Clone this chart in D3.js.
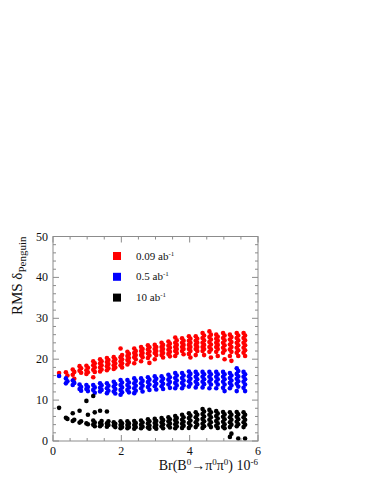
<!DOCTYPE html>
<html>
<head>
<meta charset="utf-8">
<script src="https://cdn.jsdelivr.net/npm/d3@7"></script>
<style>
  body { margin: 0; background: #fff; }
  text { font-family: "Liberation Serif", "Times New Roman", serif; fill: #111; }
</style>
</head>
<body>
<script>
// Br(B0 -> pi0 pi0) column positions (x 10^-6)
const brCols = [0.2, 0.4, 0.6, 0.8, 1.0, 1.2, 1.4, 1.6, 1.8, 2.0, 2.2, 2.4, 2.6, 2.8,
  3.0, 3.2, 3.4, 3.6, 3.8, 4.0, 4.2, 4.4, 4.6, 4.8, 5.0, 5.2, 5.4, 5.6];

// RMS delta_Penguin values for each column, 0.09 ab^-1
const red = [
  [16.6],
  [16.8, 16.0],
  [17.5, 16.9, 16.2, 15.2],
  [18.3, 17.8, 17.2, 16.7],
  [18.4, 17.9, 17.3, 16.8, 16.4],
  [19.5, 19.0, 18.5, 18.0, 17.4, 16.9, 15.6],
  [20.0, 19.5, 19.0, 18.5, 18.0, 17.5, 17.0],
  [20.3, 19.8, 19.3, 18.8, 18.3, 17.8, 17.3],
  [20.5, 20.0, 19.5, 19.0, 18.5, 18.0, 17.6],
  [22.6, 21.0, 20.5, 20.0, 19.5, 19.0, 18.5, 18.0],
  [21.8, 21.3, 20.8, 20.3, 19.8, 19.3, 18.7],
  [22.6, 22.0, 21.5, 21.0, 20.5, 20.0, 19.0],
  [23.0, 22.5, 22.0, 21.5, 21.0, 20.5, 19.5],
  [23.4, 22.9, 22.4, 21.9, 21.4, 20.9, 20.3, 19.1],
  [23.5, 23.0, 22.5, 22.0, 21.5, 21.0, 20.0],
  [24.0, 23.5, 23.0, 22.5, 22.0, 21.5, 21.0, 20.4],
  [24.3, 23.8, 23.3, 22.8, 22.3, 21.8, 21.3, 20.7],
  [25.3, 24.6, 24.0, 23.5, 23.0, 22.5, 22.0, 21.5, 20.8],
  [25.1, 24.5, 24.0, 23.5, 23.0, 22.5, 22.0, 21.2],
  [25.6, 25.0, 24.5, 24.0, 23.5, 23.0, 22.5, 22.0, 21.3, 20.4],
  [25.6, 25.0, 24.5, 24.0, 23.5, 23.0, 22.5, 22.0, 21.0],
  [26.4, 25.8, 25.2, 24.6, 24.0, 23.5, 23.0, 22.5, 22.0, 21.0],
  [26.8, 26.0, 25.4, 24.8, 24.2, 23.6, 23.0, 22.4, 21.8, 20.4],
  [26.0, 25.5, 25.0, 24.5, 24.0, 23.5, 23.0, 22.5, 21.8, 20.8],
  [26.4, 25.8, 25.2, 24.6, 24.0, 23.4, 22.8, 22.2, 21.6, 20.0],
  [26.0, 25.4, 24.8, 24.2, 23.6, 23.0, 22.4, 21.8, 20.8, 19.6],
  [26.4, 25.8, 25.2, 24.6, 24.0, 23.4, 22.8, 22.2, 21.6, 20.8],
  [26.4, 25.8, 25.2, 24.6, 24.0, 23.4, 22.8, 22.2, 21.6, 20.8]
];

// 0.5 ab^-1
const blue = [
  [15.9],
  [15.3, 14.6, 14.1],
  [14.8, 14.2, 13.7],
  [13.8, 13.2, 12.7, 12.3],
  [13.7, 13.2, 12.7, 12.2],
  [13.7, 13.1, 12.5, 11.8],
  [14.1, 13.6, 13.0, 12.5, 12.1],
  [14.1, 13.5, 12.9, 12.3, 11.7],
  [14.5, 13.9, 13.3, 12.7, 12.1, 11.6],
  [14.9, 14.3, 13.7, 13.1, 12.5, 11.9, 11.3],
  [14.9, 14.3, 13.7, 13.1, 12.5, 11.9],
  [15.3, 14.7, 14.1, 13.5, 12.9, 12.3, 11.7],
  [15.3, 14.7, 14.1, 13.5, 12.9, 12.1],
  [15.6, 15.0, 14.4, 13.8, 13.2, 12.5],
  [15.8, 15.2, 14.6, 14.0, 13.4, 12.6],
  [15.8, 15.2, 14.6, 14.0, 13.4, 12.7],
  [16.2, 15.6, 15.0, 14.4, 13.8, 13.0],
  [16.6, 16.0, 15.4, 14.8, 14.2, 13.6, 12.9],
  [16.6, 16.0, 15.4, 14.8, 14.2, 13.6, 12.9],
  [17.0, 16.4, 15.8, 15.2, 14.6, 14.0, 13.3],
  [16.9, 16.3, 15.7, 15.1, 14.5, 13.9, 13.1],
  [16.9, 16.3, 15.7, 15.1, 14.5, 13.9, 13.1],
  [16.9, 16.3, 15.7, 15.1, 14.5, 13.8, 12.9],
  [16.9, 16.3, 15.7, 15.1, 14.5, 13.8, 12.9],
  [16.9, 16.3, 15.7, 15.1, 14.5, 13.8, 13.0, 12.2],
  [16.6, 16.0, 15.4, 14.8, 14.2, 13.6, 12.9],
  [17.8, 17.1, 16.4, 15.8, 15.2, 14.6, 14.0, 13.3, 12.2],
  [16.9, 16.3, 15.7, 15.1, 14.5, 13.8, 13.0, 12.2]
];

// 10 ab^-1
const black = [
  [8.1],
  [5.7, 5.4],
  [6.8, 5.2, 4.9],
  [7.4, 4.8, 4.5],
  [9.8, 6.4, 4.3, 4.1],
  [11.0, 7.0, 5.0, 4.5, 4.0, 3.6],
  [7.4, 4.9, 4.4, 4.0, 3.6],
  [7.2, 4.8, 4.3, 3.9, 3.5],
  [4.6, 4.2, 3.8, 3.4],
  [4.8, 4.3, 3.9, 3.4, 3.1],
  [4.8, 4.3, 3.9, 3.4, 3.1],
  [4.9, 4.4, 3.9, 3.4, 3.0],
  [5.0, 4.5, 4.0, 3.5, 3.1],
  [5.3, 4.8, 4.3, 3.8, 3.3, 3.0],
  [5.4, 4.9, 4.4, 3.9, 3.4, 3.0],
  [5.6, 5.1, 4.6, 4.1, 3.6, 3.1],
  [5.8, 5.3, 4.8, 4.3, 3.8, 3.3],
  [6.1, 5.6, 5.1, 4.6, 4.1, 3.6, 3.1],
  [6.4, 5.8, 5.2, 4.7, 4.2, 3.7, 3.2],
  [6.8, 6.2, 5.6, 5.0, 4.4, 3.8, 3.2],
  [7.0, 6.4, 5.8, 5.2, 4.6, 4.0, 3.4],
  [7.8, 7.2, 6.6, 6.0, 5.4, 4.8, 4.2, 3.6, 3.2],
  [7.6, 7.0, 6.4, 5.8, 5.2, 4.6, 4.0, 3.4],
  [7.3, 6.7, 6.1, 5.5, 4.9, 4.3, 3.7, 3.2],
  [7.1, 6.5, 5.9, 5.3, 4.7, 4.1, 3.5, 3.1],
  [7.0, 6.4, 5.8, 5.2, 4.6, 4.0, 3.4, 1.8, 1.0],
  [7.1, 6.5, 5.9, 5.3, 4.7, 4.1, 3.6, 0.6],
  [7.0, 6.4, 5.8, 5.2, 4.6, 4.0, 3.4, 0.6]
];

const seriesNames = ['0.09', '0.5', '10'];
const seriesColors = ['#ff0000', '#0000ff', '#000000'];
const seriesValues = [red, blue, black];

const xTicks = [0, 2, 4, 6];
const yTicks = [0, 10, 20, 30, 40, 50];

const width = 382;
const height = 494;
const plot = { left: 53, right: 258, top: 236.5, bottom: 441 };

const x = d3.scaleLinear().domain([0, 6]).range([plot.left, plot.right]);
const y = d3.scaleLinear().domain([0, 50]).range([plot.bottom, plot.top]);

const svg = d3.select('body').append('svg')
  .attr('width', width)
  .attr('height', height);

// points: small sideways spread inside each column
const spread = [-0.022, 0.022];
const points = [];
seriesValues.forEach((cols, s) => {
  cols.forEach((vals, c) => {
    vals.forEach((v, i) => {
      points.push({ br: brCols[c] + spread[i % 2], v, color: seriesColors[s] });
    });
  });
});

svg.append('g').selectAll('circle')
  .data(points)
  .join('circle')
  .attr('cx', (d) => x(d.br))
  .attr('cy', (d) => y(d.v))
  .attr('r', 2.3)
  .attr('fill', (d) => d.color);

// frame and ticks (ROOT style, inward)
const axisColor = '#8c8c8c';
svg.append('rect')
  .attr('x', plot.left).attr('y', plot.top)
  .attr('width', plot.right - plot.left)
  .attr('height', plot.bottom - plot.top)
  .attr('fill', 'none')
  .attr('stroke', axisColor)
  .attr('stroke-width', 1);

const ticks = svg.append('g').attr('stroke', axisColor).attr('stroke-width', 1);
d3.range(0, 6.001, 0.5).forEach((t) => {
  const len = t % 2 === 0 ? 6 : 3;
  ticks.append('line').attr('x1', x(t)).attr('x2', x(t))
    .attr('y1', plot.bottom).attr('y2', plot.bottom - len);
  ticks.append('line').attr('x1', x(t)).attr('x2', x(t))
    .attr('y1', plot.top).attr('y2', plot.top + len);
});
d3.range(0, 50.001, 2).forEach((t) => {
  const len = t % 10 === 0 ? 6 : 3;
  ticks.append('line').attr('y1', y(t)).attr('y2', y(t))
    .attr('x1', plot.left).attr('x2', plot.left + len);
  ticks.append('line').attr('y1', y(t)).attr('y2', y(t))
    .attr('x1', plot.right).attr('x2', plot.right - len);
});

svg.append('g').selectAll('text')
  .data(xTicks)
  .join('text')
  .attr('x', (d) => x(d))
  .attr('y', plot.bottom + 14)
  .attr('text-anchor', 'middle')
  .attr('font-size', 12)
  .text((d) => d);

svg.append('g').selectAll('text')
  .data(yTicks)
  .join('text')
  .attr('x', plot.left - 5)
  .attr('y', (d) => y(d) + 4)
  .attr('text-anchor', 'end')
  .attr('font-size', 12)
  .text((d) => d);

// axis titles
const xt = svg.append('text')
  .attr('x', plot.right)
  .attr('y', 470)
  .attr('text-anchor', 'end')
  .attr('font-size', 14);
xt.append('tspan').text('Br(B');
xt.append('tspan').attr('dy', -5).attr('font-size', 9).text('0');
xt.append('tspan').attr('dy', 5).text('\u2192\u03c0');
xt.append('tspan').attr('dy', -5).attr('font-size', 9).text('0');
xt.append('tspan').attr('dy', 5).text('\u03c0');
xt.append('tspan').attr('dy', -5).attr('font-size', 9).text('0');
xt.append('tspan').attr('dy', 5).text(') 10');
xt.append('tspan').attr('dy', -5).attr('font-size', 9).text('-6');

const yt = svg.append('text')
  .attr('transform', `translate(22,${plot.top}) rotate(-90)`)
  .attr('text-anchor', 'end')
  .attr('font-size', 15);
yt.append('tspan').text('RMS \u03b4');
yt.append('tspan').attr('dy', 4).attr('font-size', 11).text('Penguin');

// legend
const legend = svg.append('g');
seriesNames.forEach((name, i) => {
  const cy = 256 + i * 20.8;
  legend.append('rect')
    .attr('x', 113).attr('y', cy - 4)
    .attr('width', 8).attr('height', 8)
    .attr('fill', seriesColors[i]);
  const t = legend.append('text')
    .attr('x', 136).attr('y', cy + 3.5)
    .attr('font-size', 11);
  t.append('tspan').text(name + ' ab');
  t.append('tspan').attr('dy', -4).attr('font-size', 7).text('-1');
});
</script>
</body>
</html>
